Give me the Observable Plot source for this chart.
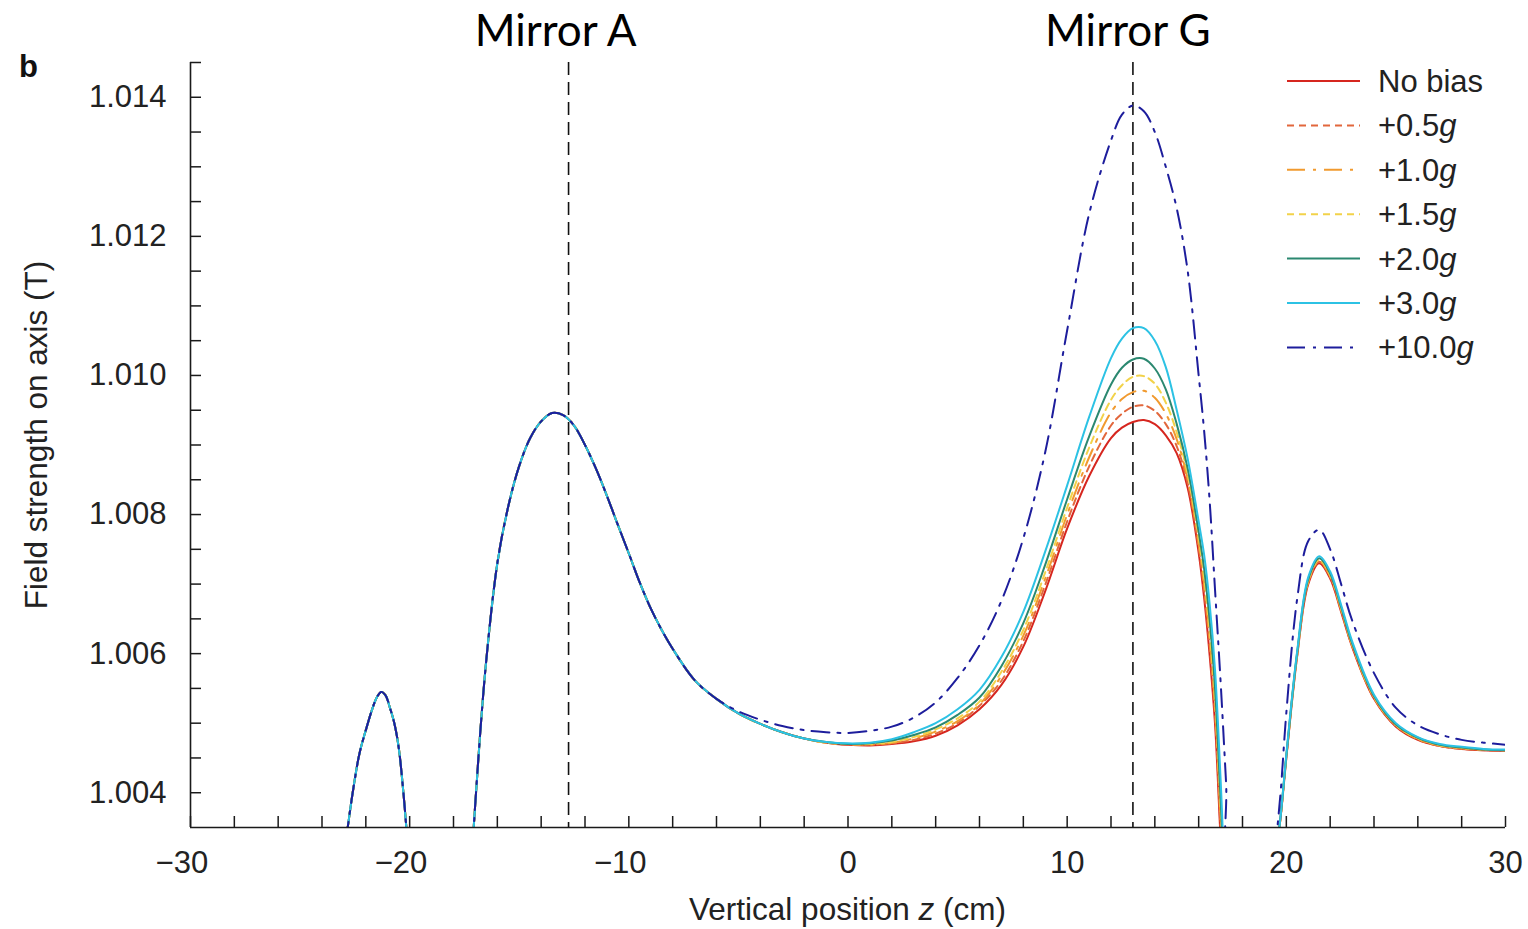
<!DOCTYPE html>
<html><head><meta charset="utf-8">
<script src="https://cdn.jsdelivr.net/npm/d3@7"></script>
<script src="https://cdn.jsdelivr.net/npm/@observablehq/plot@0.6"></script>
<style>body{margin:0;background:#fff}#chart{width:1528px;height:929px}</style>
</head><body><div id="chart"></div>
<script>
// ---------- data ----------
// Left part of the profile, identical for every bias value
const zLeft = [-23.2, -22.9, -22.6, -22.3, -22.0, -21.7, -21.5, -21.3, -21.1, -20.9, -20.7, -20.5, -20.3, -20.1, -19.9,
  -17.4, -17.1, -16.8, -16.5, -16.0, -15.5, -15.0, -14.5, -14.0, -13.5, -13.0, -12.5, -12.0, -11.5, -11.0, -10.5, -10.0,
  -9.5, -9.0, -8.5, -8.0, -7.0, -6.0];
const fieldLeft = [1.0028, 1.00335, 1.00400, 1.00455, 1.00490, 1.00521, 1.00537, 1.00545, 1.00540, 1.00522, 1.00500, 1.00465, 1.00405, 1.00330, 1.0025,
  1.0020, 1.00340, 1.00478, 1.00592, 1.00730, 1.00812, 1.00870, 1.00910, 1.00934, 1.00946, 1.00943, 1.00928, 1.00900, 1.00866, 1.00827, 1.00785, 1.00744,
  1.00702, 1.00665, 1.00634, 1.00607, 1.00562, 1.00535];

// Right part, one array per bias value
const zRight = [-5, -4, -3, -2, -1, 0, 1, 2, 3, 4, 5, 6, 7, 8, 9, 10, 11, 12,
  12.5, 13, 13.5, 14, 14.5, 15, 15.5, 16,
  16.25, 16.5, 16.75, 17, 17.25, 17.5,
  19.25, 19.5, 19.75, 20,
  20.5, 21, 21.5, 22, 22.5, 23,
  24, 25, 26, 27, 28, 29, 30];

const noBias = [1.00514, 1.00499, 1.00487, 1.00478, 1.00472, 1.00469, 1.00468, 1.00470, 1.00474, 1.00482, 1.00497, 1.00520, 1.00555, 1.00610, 1.00690, 1.00780, 1.00855, 1.00910,
  1.00925, 1.00933, 1.00936, 1.00930, 1.00914, 1.00888, 1.00838, 1.00745,
  1.00680, 1.00598, 1.00497, 1.00335, 1.0020, 1.0015,
  1.0022, 1.0030, 1.00368, 1.00450,
  1.00598, 1.00700, 1.00730, 1.00708, 1.00660, 1.00610,
  1.00535, 1.00495, 1.00476, 1.00467, 1.00463, 1.00461, 1.00460];

const bias05 = [1.00514, 1.00499, 1.00487, 1.00478, 1.00472, 1.00469, 1.00469, 1.00471, 1.00476, 1.00485, 1.00500, 1.00525, 1.00561, 1.00618, 1.00699, 1.00790, 1.00869, 1.00928,
  1.00945, 1.00955, 1.00957, 1.00949, 1.00930, 1.00898, 1.00845, 1.00752,
  1.00690, 1.00610, 1.00509, 1.00349, 1.0021, 1.0015,
  1.0022, 1.0030, 1.00368, 1.00451,
  1.00599, 1.00702, 1.00732, 1.00710, 1.00662, 1.00611,
  1.00536, 1.00496, 1.00477, 1.00467, 1.00463, 1.00461, 1.00460];

const bias10 = [1.00514, 1.00499, 1.00487, 1.00478, 1.00472, 1.00470, 1.00469, 1.00472, 1.00478, 1.00488, 1.00503, 1.00527, 1.00568, 1.00626, 1.00708, 1.00800, 1.00882, 1.00947,
  1.00966, 1.00976, 1.00978, 1.00968, 1.00945, 1.00908, 1.00851, 1.00759,
  1.00700, 1.00622, 1.00522, 1.00362, 1.0022, 1.0016,
  1.0022, 1.0030, 1.00369, 1.00452,
  1.00600, 1.00703, 1.00733, 1.00711, 1.00663, 1.00612,
  1.00537, 1.00497, 1.00477, 1.00468, 1.00464, 1.00462, 1.00461];

const bias15 = [1.00514, 1.00499, 1.00487, 1.00478, 1.00472, 1.00470, 1.00470, 1.00473, 1.00480, 1.00491, 1.00507, 1.00531, 1.00574, 1.00634, 1.00717, 1.00810, 1.00896, 1.00965,
  1.00986, 1.00998, 1.00999, 1.00988, 1.00961, 1.00918, 1.00858, 1.00767,
  1.00710, 1.00634, 1.00534, 1.00376, 1.0023, 1.0016,
  1.0022, 1.0030, 1.00369, 1.00452,
  1.00601, 1.00705, 1.00735, 1.00713, 1.00665, 1.00614,
  1.00538, 1.00497, 1.00478, 1.00468, 1.00464, 1.00462, 1.00461];

const bias20 = [1.00514, 1.00499, 1.00487, 1.00478, 1.00473, 1.00470, 1.00471, 1.00475, 1.00483, 1.00494, 1.00512, 1.00537, 1.00582, 1.00644, 1.00728, 1.00822, 1.00912, 1.00987,
  1.01011, 1.01023, 1.01024, 1.01010, 1.00980, 1.00930, 1.00866, 1.00775,
  1.00722, 1.00648, 1.00549, 1.00392, 1.0024, 1.0017,
  1.0022, 1.0030, 1.00370, 1.00453,
  1.00603, 1.00707, 1.00737, 1.00715, 1.00667, 1.00615,
  1.00539, 1.00498, 1.00479, 1.00469, 1.00465, 1.00462, 1.00461];

const bias30 = [1.00514, 1.00499, 1.00487, 1.00478, 1.00473, 1.00471, 1.00472, 1.00477, 1.00487, 1.00500, 1.00520, 1.00548, 1.00595, 1.00660, 1.00747, 1.00842, 1.00940, 1.01025,
  1.01053, 1.01068, 1.01068, 1.01050, 1.01012, 1.00950, 1.00880, 1.00790,
  1.00742, 1.00672, 1.00575, 1.00420, 1.0025, 1.0018,
  1.0022, 1.0030, 1.00370, 1.00455,
  1.00605, 1.00710, 1.00740, 1.00718, 1.00670, 1.00618,
  1.00541, 1.00500, 1.00480, 1.00470, 1.00466, 1.00463, 1.00462];

const bias100 = [1.00517, 1.00505, 1.00496, 1.00490, 1.00487, 1.00486, 1.00489, 1.00495, 1.00508, 1.00530, 1.00565, 1.00612, 1.00676, 1.00766, 1.00890, 1.01065, 1.01232, 1.01338,
  1.01375, 1.01388, 1.01380, 1.01350, 1.01300, 1.01240, 1.01150, 1.01000,
  1.00920, 1.00820, 1.00690, 1.00560, 1.00415, 1.0027,
  1.0024, 1.0032, 1.00405, 1.00515,
  1.00680, 1.00762, 1.00778, 1.00750, 1.00700, 1.00648,
  1.00572, 1.00522, 1.00497, 1.00484, 1.00476, 1.00472, 1.00469];

const seriesLabels = ["No bias", "+0.5", "+1.0", "+1.5", "+2.0", "+3.0", "+10.0"];
const seriesUnits  = ["", "g", "g", "g", "g", "g", "g"];
const seriesValues = [noBias, bias05, bias10, bias15, bias20, bias30, bias100];
const seriesColors = ["#d6261f", "#e2673c", "#f19a2f", "#f2d24a", "#2b8870", "#2cc2e4", "#1d1d9c"];
const seriesDash   = [null, "7,5", "18,8,3,8", "7,5", null, null, "18,8,3,8"];

const mirrorNames = ["Mirror A", "Mirror G"];
const mirrorZ = [-12.75, 13.0];

const xTickLabels = [-30, -20, -10, 0, 10, 20, 30];
const xTickMinor = [-30, -28, -26, -24, -22, -20, -18, -16, -14, -12, -10, -8, -6, -4, -2, 0, 2, 4, 6, 8, 10, 12, 14, 16, 18, 20, 22, 24, 26, 28, 30];
const yTickLabels = [1.004, 1.006, 1.008, 1.010, 1.012, 1.014];
const yTickMinor = [1.004, 1.0045, 1.005, 1.0055, 1.006, 1.0065, 1.007, 1.0075, 1.008, 1.0085, 1.009, 1.0095, 1.010, 1.0105, 1.011, 1.0115, 1.012, 1.0125, 1.013, 1.0135, 1.014, 1.0145];

// ---------- build table ----------
const rows = [];
seriesValues.forEach((vals, i) => {
  zLeft.forEach((z, j) => rows.push({s: i, z, B: fieldLeft[j]}));
  zRight.forEach((z, j) => rows.push({s: i, z, B: vals[j]}));
});
const mirrors = mirrorNames.map((name, i) => ({name, z: mirrorZ[i]}));

// ---------- layout ----------
const W = 1528, H = 929, mL = 190, mR = 23, mT = 62, mB = 102;
const frameW = W - mL - mR, frameH = H - mT - mB;
const axisColor = "#1a1a1a";
const sans = "'Liberation Sans', Arial, Helvetica, sans-serif";

const lineMarks = seriesLabels.map((_, i) => Plot.line(rows.filter(r => r.s === i), {
  x: "z", y: "B", stroke: seriesColors[i], strokeWidth: 2,
  strokeDasharray: seriesDash[i] || undefined, curve: "catmull-rom", clip: true
}));

const plot = Plot.plot({
  width: W, height: H,
  marginLeft: mL, marginRight: mR, marginTop: mT, marginBottom: mB,
  style: {fontFamily: sans, fontSize: "31px", background: "#fff", color: "#222"},
  x: {domain: [-30, 30]},
  y: {domain: [1.0035, 1.0145]},
  marks: [
    Plot.ruleX(mirrors, {x: "z", stroke: "#111", strokeWidth: 1.6, strokeDasharray: "13,7"}),
    ...lineMarks,
    Plot.ruleX(xTickMinor, {x: d => d, insetTop: frameH - 11, stroke: axisColor, strokeWidth: 1.5}),
    Plot.ruleY(yTickMinor, {y: d => d, insetRight: frameW - 11, stroke: axisColor, strokeWidth: 1.5}),
    Plot.ruleY([1.0035], {y: d => d, stroke: axisColor, strokeWidth: 1.6}),
    Plot.ruleX([-30], {x: d => d, stroke: axisColor, strokeWidth: 1.6}),
    Plot.axisX({ticks: xTickLabels, tickSize: 0, tickPadding: 23, label: null, fontSize: 31,
      tickFormat: d => d < 0 ? "\u2212" + (-d) + "\u2007" : String(d)}),
    Plot.axisY({ticks: yTickLabels, tickSize: 0, tickPadding: 24, label: null, fontSize: 31,
      tickFormat: d3.format(".3f")}),
    Plot.text(mirrors.slice(0, 1), {x: "z", text: "name", frameAnchor: "top", lineAnchor: "top", dy: -48, dx: -13,
      fontSize: 44, fontFamily: "Lato", fill: "#000"}),
    Plot.text(mirrors.slice(1), {x: "z", text: "name", frameAnchor: "top", lineAnchor: "top", dy: -48, dx: -5,
      fontSize: 44, fontFamily: "Lato", fill: "#000"})
  ]
});

document.getElementById("chart").appendChild(plot);

// ---------- extra text: axis titles with italics, panel letter, legend ----------
const svg = d3.select(plot);
const xt = svg.append("text").attr("x", mL + frameW / 2).attr("y", 920)
  .attr("text-anchor", "middle").attr("font-family", sans).attr("font-size", 31.5).attr("fill", "#222");
xt.append("tspan").text("Vertical position ");
xt.append("tspan").attr("font-style", "italic").text("z");
xt.append("tspan").text(" (cm)");

svg.append("text").attr("transform", "translate(47,435) rotate(-90)")
  .attr("text-anchor", "middle").attr("font-family", sans).attr("font-size", 31.5).attr("fill", "#222")
  .text("Field strength on axis (T)");

svg.append("text").attr("x", 19).attr("y", 77).attr("text-anchor", "start").attr("font-family", sans)
  .attr("font-weight", "bold").attr("font-size", 31).attr("fill", "#111").text("b");

const lg = svg.append("g").attr("font-family", sans).attr("font-size", 31).attr("fill", "#222")
  .attr("text-anchor", "start");
seriesLabels.forEach((lab, i) => {
  const cy = 81 + i * 44.4;
  lg.append("line").attr("x1", 1287).attr("x2", 1360).attr("y1", cy).attr("y2", cy)
    .attr("stroke", seriesColors[i]).attr("stroke-width", 2)
    .attr("stroke-dasharray", seriesDash[i]);
  const t = lg.append("text").attr("x", 1378).attr("y", cy + 11).attr("text-anchor", "start");
  t.append("tspan").text(lab);
  if (seriesUnits[i]) t.append("tspan").attr("font-style", "italic").text(seriesUnits[i]);
});
</script>
</body></html>
